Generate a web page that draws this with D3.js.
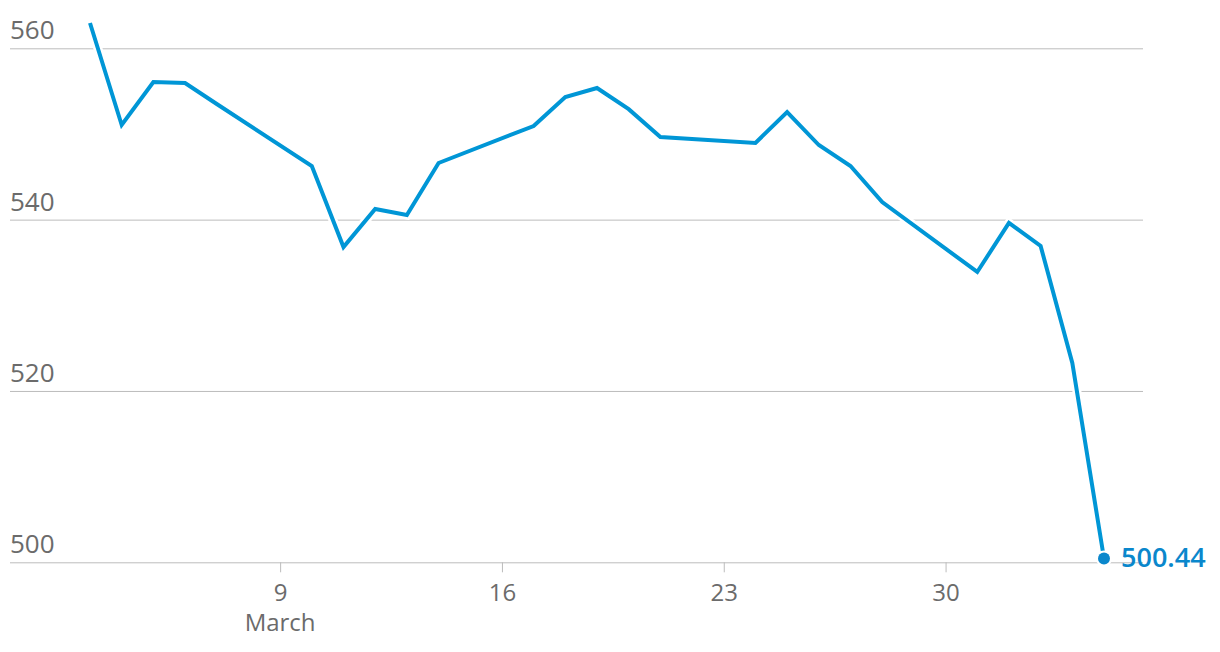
<!DOCTYPE html>
<html><head><meta charset="utf-8">
<script src="https://cdn.jsdelivr.net/npm/d3@7"></script>
<style>
html,body{margin:0;padding:0;background:#fff;}
svg{display:block;}
</style></head>
<body>
<svg id="chart" width="1220" height="652"></svg>
<script>
const dates = ["2025-03-03","2025-03-04","2025-03-05","2025-03-06","2025-03-07","2025-03-10","2025-03-11","2025-03-12","2025-03-13","2025-03-14","2025-03-17","2025-03-18","2025-03-19","2025-03-20","2025-03-21","2025-03-24","2025-03-25","2025-03-26","2025-03-27","2025-03-28","2025-03-31","2025-04-01","2025-04-02","2025-04-03","2025-04-04"];
const values = [562.95,551.05,556.07,555.95,553.5,546.26,536.8,541.24,540.54,546.61,550.93,554.3,555.37,552.9,549.65,548.95,552.56,548.71,546.26,542.06,533.89,539.61,536.93,523.27,500.44];
const yTicks = [500,520,540,560];
const xTicks = ["2025-03-09","2025-03-16","2025-03-23","2025-03-30"];
const xTickLabels = ["9","16","23","30"];
const monthLabel = "March";
const lastLabel = "500.44";

const parse = d3.utcParse("%Y-%m-%d");
const data = dates.map((d,i)=>({date:parse(d), value:values[i]}));

const svg = d3.select("#chart");
const font = "'Open Sans', 'Noto Sans', sans-serif";
const x = d3.scaleUtc().domain([parse("2025-03-03"), parse("2025-04-04")]).range([90, 1104]);
const y = d3.scaleLinear().domain([500,560]).range([562.3, 48.3]);
const gridLeft = 10, gridRight = 1143;

// gridlines
const yAxis = d3.axisLeft(y).tickValues(yTicks).tickSize(0).tickFormat(d3.format("d"));
const gy = svg.append("g").attr("transform", `translate(${gridLeft},0)`).call(yAxis);
gy.select(".domain").remove();
gy.selectAll(".tick line").attr("x1", 0).attr("x2", gridRight-gridLeft).attr("stroke","#bcbcbc").attr("stroke-width",1);
gy.selectAll(".tick text").attr("x",0).attr("dy",-9.5).attr("text-anchor","start")
  .attr("fill","#6b6b6b").style("font-family",font).style("font-size","26px").style("font-weight",400);

// x axis
const xAxis = d3.axisBottom(x).tickValues(xTicks.map(parse)).tickSize(10).tickPadding(6)
  .tickFormat((d,i)=>xTickLabels[i]);
const gx = svg.append("g").attr("transform", `translate(0,${y(500)})`).call(xAxis);
gx.select(".domain").remove();
gx.selectAll(".tick line").attr("stroke","#bcbcbc");
gx.selectAll(".tick text").attr("fill","#6b6b6b").style("font-family",font).style("font-size","24px").attr("dy","0.95em");
gx.append("text").attr("x", x(parse(xTicks[0]))).attr("y", 69)
  .attr("text-anchor","middle").attr("fill","#6b6b6b")
  .style("font-family",font).style("font-size","24px").text(monthLabel);

// line
const line = d3.line().x(d=>x(d.date)).y(d=>y(d.value));
svg.append("path").datum(data).attr("d",line).attr("fill","none")
  .attr("stroke","#fff").attr("stroke-width",9).attr("stroke-linejoin","miter");
svg.append("path").datum(data).attr("d",line).attr("fill","none")
  .attr("stroke","#0096d6").attr("stroke-width",4).attr("stroke-linejoin","miter");

const last = data[data.length-1];
svg.append("circle").attr("cx",x(last.date)).attr("cy",y(last.value)).attr("r",8).attr("fill","#fff");
svg.append("circle").attr("cx",x(last.date)).attr("cy",y(last.value)).attr("r",6).attr("fill","#0a87cc");
svg.append("text").attr("x",x(last.date)+17).attr("y",y(last.value)+8)
  .attr("fill","#0a87cc").style("font-family",font).style("font-size","27px").style("font-weight",600)
  .text(lastLabel);
</script>
</body></html>
